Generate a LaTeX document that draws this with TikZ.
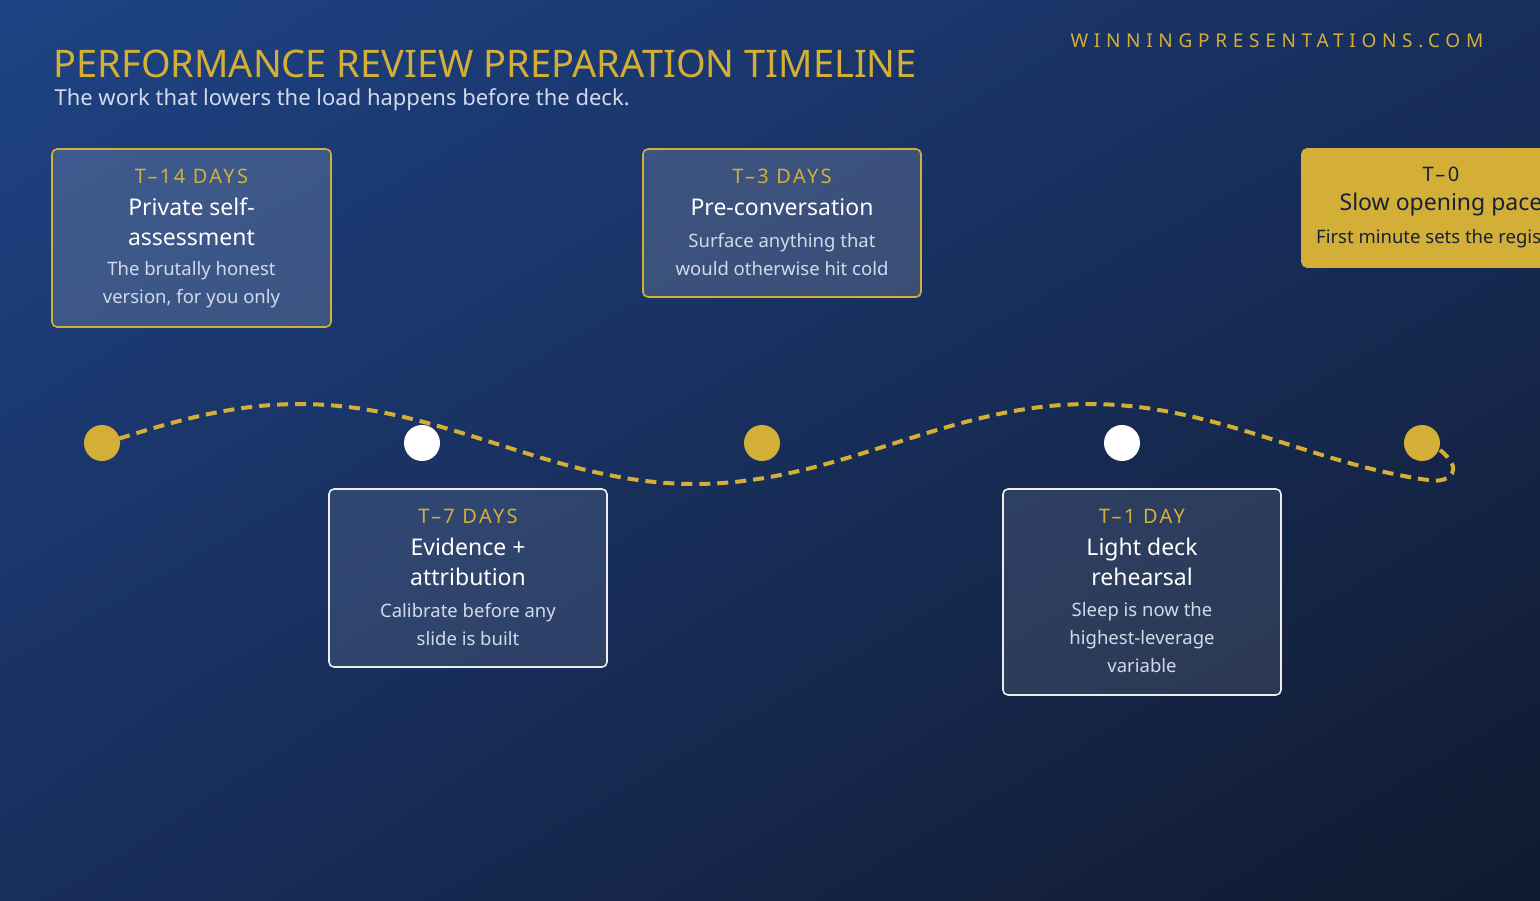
\documentclass[tikz,border=0pt]{standalone}
\usepackage{fontspec}
\setmainfont{Noto Sans}
\usetikzlibrary{calc,shadings}
\definecolor{gold}{HTML}{D4AF37}
\definecolor{bgA}{HTML}{1E4384}
\definecolor{bgB}{HTML}{101A2E}
\definecolor{bgC}{HTML}{182E5C}
\definecolor{sub}{HTML}{D2DAEA}
\definecolor{navyT}{HTML}{15213A}
\tikzset{
 card/.style={rounded corners=5pt, line width=1.6pt, minimum width=279pt, anchor=north, inner sep=0pt},
 hd/.style={text=gold, font=\fontsize{20}{24}\selectfont\bfseries\addfontfeature{LetterSpace=12}},
 tl/.style={text=white, font=\fontsize{23}{30}\selectfont\bfseries, align=center},
 ds/.style={text=sub, font=\fontsize{18.5}{28}\selectfont, align=center},
 dot/.style={circle, minimum size=36pt, inner sep=0pt},
 path/.style={gold, line width=4pt, dash pattern=on 11pt off 7pt}
}
\begin{document}
\begin{tikzpicture}[x=1pt,y=-1pt]
\useasboundingbox (0,0) rectangle (1540,900);
\shade[upper left=bgA, upper right=bgC, lower left=bgC, lower right=bgB] (0,0) rectangle (1540,900);
\clip (0,0) rectangle (1540,900);
\node[anchor=west, text=gold, font=\fontsize{38}{44}\selectfont\bfseries] (title) at (50,64) {PERFORMANCE REVIEW PREPARATION TIMELINE};
\node[anchor=west, text=sub, font=\fontsize{22}{26}\selectfont] (subt) at (51,100) {The work that lowers the load happens before the deck.};
\node[anchor=west, text=gold, font=\fontsize{19}{22}\selectfont\bfseries\addfontfeature{LetterSpace=30}] (web) at (1067,41) {WINNINGPRESENTATIONS.COM};
% path
\draw[path] plot[domain=102:1432, samples=120] (\x,{444-40*sin(0.4557*(\x-102))})
  .. controls (1450,482) and (1465,470) .. (1440,450);
% dots
\node[dot, fill=gold] (d1) at (102,443) {};
\node[dot, fill=white] (d2) at (422,443) {};
\node[dot, fill=gold] (d3) at (762,443) {};
\node[dot, fill=white] (d4) at (1122,443) {};
\node[dot, fill=gold] (d5) at (1422,443) {};
% cards
\draw[card, draw=gold, fill=white, fill opacity=0.15] (52,149) rectangle (331,327);
\node[hd] (h1) at (191.5,176) {T–14 DAYS};
\node[tl] (t1) at (191.5,222) {Private self-\\assessment};
\node[ds] (s1) at (191.5,285) {The brutally honest\\version, for you only};

\draw[card, draw=white!85!gray, fill=white, fill opacity=0.1] (329,489) rectangle (607,667);
\node[hd] (h2) at (468,516) {T–7 DAYS};
\node[tl] (t2) at (468,562) {Evidence +\\attribution};
\node[ds] (s2) at (468,625) {Calibrate before any\\slide is built};

\draw[card, draw=gold, fill=white, fill opacity=0.15] (643,149) rectangle (921,297);
\node[hd] (h3) at (782,176) {T–3 DAYS};
\node[tl] (t3) at (782,207) {Pre-conversation};
\node[ds] (s3) at (782,255) {Surface anything that\\would otherwise hit cold};

\draw[card, draw=white!85!gray, fill=white, fill opacity=0.1] (1003,489) rectangle (1281,695);
\node[hd] (h4) at (1142,516) {T–1 DAY};
\node[tl] (t4) at (1142,562) {Light deck\\rehearsal};
\node[ds] (s4) at (1142,638) {Sleep is now the\\highest-leverage\\variable};

\draw[card, draw=gold, fill=gold] (1302,149) rectangle (1582,267);
\node[hd, text=navyT] (h5) at (1441,174) {T–0};
\node[tl, text=navyT] (t5) at (1441,205) {Slow opening pace};
\node[ds, text=navyT] (s5) at (1441,239) {First minute sets the register};
\end{tikzpicture}
\end{document}
